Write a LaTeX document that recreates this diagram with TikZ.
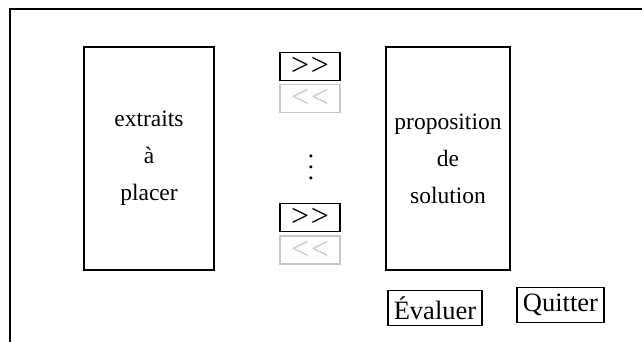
\documentclass[tikz,border=0pt]{standalone}
\usepackage{fontspec}
\setmainfont{Liberation Serif}
\begin{document}
\begin{tikzpicture}[x=1pt,y=-1pt,
  bigbox/.style={draw=black,line width=1.8pt,minimum width=#1,minimum height=223pt,inner sep=0pt,align=center,font=\fontsize{23.5}{37}\selectfont},
  btn/.style={draw=black,line width=1.6pt,minimum width=60pt,minimum height=28pt,inner sep=0pt,font=\fontsize{32}{32}\selectfont},
  btngray/.style={btn,draw=black!22,text=black!22},
  actbtn/.style={draw=black,line width=1.4pt,inner sep=0pt,minimum height=35pt,font=\fontsize{26.5}{26.5}\selectfont}]
\useasboundingbox (0,0) rectangle (642,342);
\draw[line width=2pt] (9.5,350) -- (9.5,9.5) -- (650,9.5);
\node[bigbox=130pt] (left) at (149,158.5) {extraits\\à\\placer};
\node[bigbox=124pt] (right) at (448,158.5) {proposition\\de\\solution};
\node[btn] (r1) at (310,66.5) {>\kern0.05em>};
\node[btngray] (l1) at (310,98.5) {<\kern0.05em<};
\node[align=center,font=\fontsize{25}{11}\selectfont] (dots) at (311,167) {.\\.\\.};
\node[btn] (r2) at (310,217.5) {>\kern0.05em>};
\node[btngray] (l2) at (310,250) {<\kern0.05em<};
\node[actbtn,minimum width=94pt] (eval) at (435,308) {Évaluer};
\node[actbtn,minimum width=87pt] (quit) at (560.5,305) {Quitter};
\end{tikzpicture}
\end{document}
